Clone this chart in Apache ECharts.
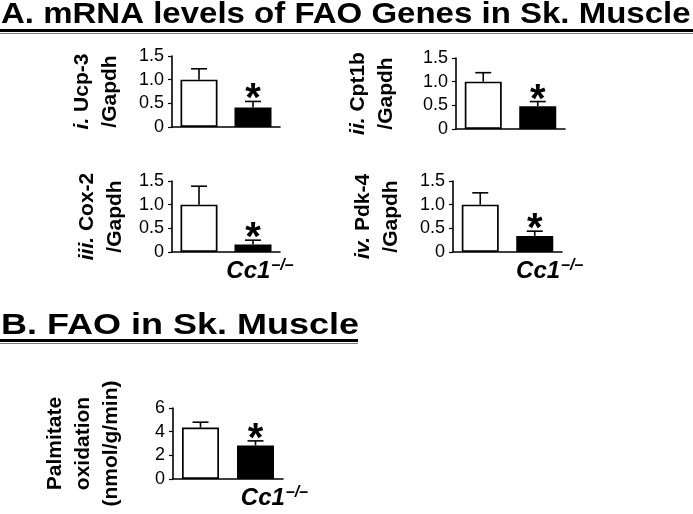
<!DOCTYPE html>
<html>
<head>
<meta charset="utf-8">
<script src="https://cdn.jsdelivr.net/npm/echarts@6/dist/echarts.min.js"></script>
<style>
html, body { margin: 0; padding: 0; background: #fff; }
#chart { width: 693px; height: 514px; }
</style>
</head>
<body>
<div id="chart"></div>
<script>
// data
var groups = ['WT', 'Cc1-/-'];
var ucp3 = [1.0, 0.41];
var ucp3Err = [1.23, 0.54];
var cpt1b = [1.0, 0.48];
var cpt1bErr = [1.19, 0.58];
var cox2 = [1.0, 0.16];
var cox2Err = [1.39, 0.25];
var pdk4 = [1.0, 0.34];
var pdk4Err = [1.25, 0.44];
var palmitate = [4.35, 2.84];
var palmitateErr = [4.8, 3.22];
var significant = [false, true];
var geneTicks = { min: 0, max: 1.5, interval: 0.5 };
var faoTicks = { min: 0, max: 6, interval: 2 };

var titleA = 'A. mRNA levels of FAO Genes in Sk. Muscle';
var titleB = 'B. FAO in Sk. Muscle';

var FONT = '"Liberation Sans", Arial, sans-serif';

// one entry per small plot (grid = left, top, width; pad pushes the Cc1 label right)
var panels = [
    { name: '{it|i.} Ucp-3\n/Gapdh', vals: ucp3, err: ucp3Err, ticks: geneTicks, grid: [172, 56, 108], gap: 48, xlab: false, pad: 14 },
    { name: '{it|ii.} Cpt1b\n/Gapdh', vals: cpt1b, err: cpt1bErr, ticks: geneTicks, grid: [456, 58, 109], gap: 56, xlab: false, pad: 14 },
    { name: '{it|iii.} Cox-2\n/Gapdh', vals: cox2, err: cox2Err, ticks: geneTicks, grid: [172, 181, 108], gap: 43, xlab: true, pad: 14 },
    { name: '{it|iv.} Pdk-4\n/Gapdh', vals: pdk4, err: pdk4Err, ticks: geneTicks, grid: [453, 181, 109], gap: 48, xlab: true, pad: 30 },
    { name: 'Palmitate\noxidation\n(nmol/g/min)', vals: palmitate, err: palmitateErr, ticks: faoTicks, grid: [173, 408, 110], gap: 48, xlab: true, pad: 38 }
];

var mycharts = echarts.init(document.getElementById('chart'));

var grids = [], xAxes = [], yAxes = [], series = [];

function renderErr(params, api) {
    var base = api.coord([api.value(0), api.value(1)]);
    var top = api.coord([api.value(0), api.value(2)]);
    var kids = [
        { type: 'line', shape: { x1: base[0], y1: base[1], x2: top[0], y2: top[1] }, style: { stroke: '#000', lineWidth: 1.6 } },
        { type: 'line', shape: { x1: top[0] - 8, y1: top[1], x2: top[0] + 8, y2: top[1] }, style: { stroke: '#000', lineWidth: 1.6 } }
    ];
    if (api.value(3)) {
        kids.push({
            type: 'text', x: top[0], y: top[1] - 1,
            style: { text: '*', font: 'bold 40px ' + FONT, fill: '#000', align: 'center', verticalAlign: 'middle' }
        });
    }
    return { type: 'group', children: kids };
}

panels.forEach(function (p, k) {
    grids.push({ left: p.grid[0], top: p.grid[1], width: p.grid[2], height: 71 });
    xAxes.push({
        type: 'category', gridIndex: k, data: groups,
        axisLine: { lineStyle: { color: '#000', width: 1.6 } },
        axisTick: { alignWithLabel: true, length: 4, lineStyle: { color: '#000', width: 1.2 } },
        axisLabel: {
            show: p.xlab, interval: 0, margin: 6, color: '#000',
            formatter: function (v, i) { return i === 1 ? '{b|Cc1}{s|\u2013/\u2013}' : ''; },
            rich: {
                b: { fontFamily: FONT, fontSize: 24, fontWeight: 'bold', fontStyle: 'italic', color: '#000', padding: [0, 0, 0, p.pad] },
                s: { fontFamily: FONT, fontSize: 16, fontWeight: 'bold', fontStyle: 'italic', color: '#000', padding: [0, 0, 10, 1] }
            }
        }
    });
    yAxes.push({
        type: 'value', gridIndex: k,
        min: p.ticks.min, max: p.ticks.max, interval: p.ticks.interval,
        splitLine: { show: false },
        axisLine: { show: true, lineStyle: { color: '#000', width: 1.6 } },
        axisTick: { show: true, length: 4, lineStyle: { color: '#000', width: 1.2 } },
        axisLabel: {
            fontFamily: FONT, fontSize: 18, color: '#000', margin: 8,
            formatter: function (v) { return p.ticks.max > 2 ? String(v) : (v === 0 ? '0' : v.toFixed(1)); }
        },
        name: p.name, nameLocation: 'middle', nameRotate: 90, nameGap: p.gap,
        nameTextStyle: {
            fontFamily: FONT, fontSize: 21, fontWeight: 'bold', color: '#000', lineHeight: 28,
            rich: { it: { fontFamily: FONT, fontSize: 21, fontWeight: 'bold', fontStyle: 'italic', color: '#000', lineHeight: 28 } }
        }
    });
    series.push({
        type: 'bar', xAxisIndex: k, yAxisIndex: k, barWidth: 37,
        data: p.vals.map(function (v, i) {
            return { value: v, itemStyle: { color: i ? '#000' : '#fff', borderColor: '#000', borderWidth: 1.7 } };
        })
    });
    series.push({
        type: 'custom', xAxisIndex: k, yAxisIndex: k, z: 5,
        renderItem: renderErr,
        data: p.vals.map(function (v, i) { return [i, v, p.err[i], significant[i] ? 1 : 0]; })
    });
});

var optionObj = {
    backgroundColor: '#fff',
    animation: false,
    grid: grids,
    xAxis: xAxes,
    yAxis: yAxes,
    series: series,
    graphic: [
        { type: 'text', x: 1, y: 0, scaleX: 1.1, style: { text: titleA, font: 'bold 30px ' + FONT, fill: '#000', verticalAlign: 'top' } },
        { type: 'rect', shape: { x: 0, y: 29, width: 693, height: 3 }, style: { fill: '#000' } },
        { type: 'rect', shape: { x: 0, y: 33, width: 693, height: 1 }, style: { fill: '#777' } },
        { type: 'text', x: 1, y: 311, scaleX: 1.2, style: { text: titleB, font: 'bold 30px ' + FONT, fill: '#000', verticalAlign: 'top' } },
        { type: 'rect', shape: { x: 0, y: 339, width: 358, height: 3 }, style: { fill: '#000' } },
        { type: 'rect', shape: { x: 0, y: 343, width: 358, height: 1 }, style: { fill: '#777' } }
    ]
};

mycharts.setOption(optionObj);
window.onresize = function () {
    mycharts.resize();
};
</script>
</body>
</html>
